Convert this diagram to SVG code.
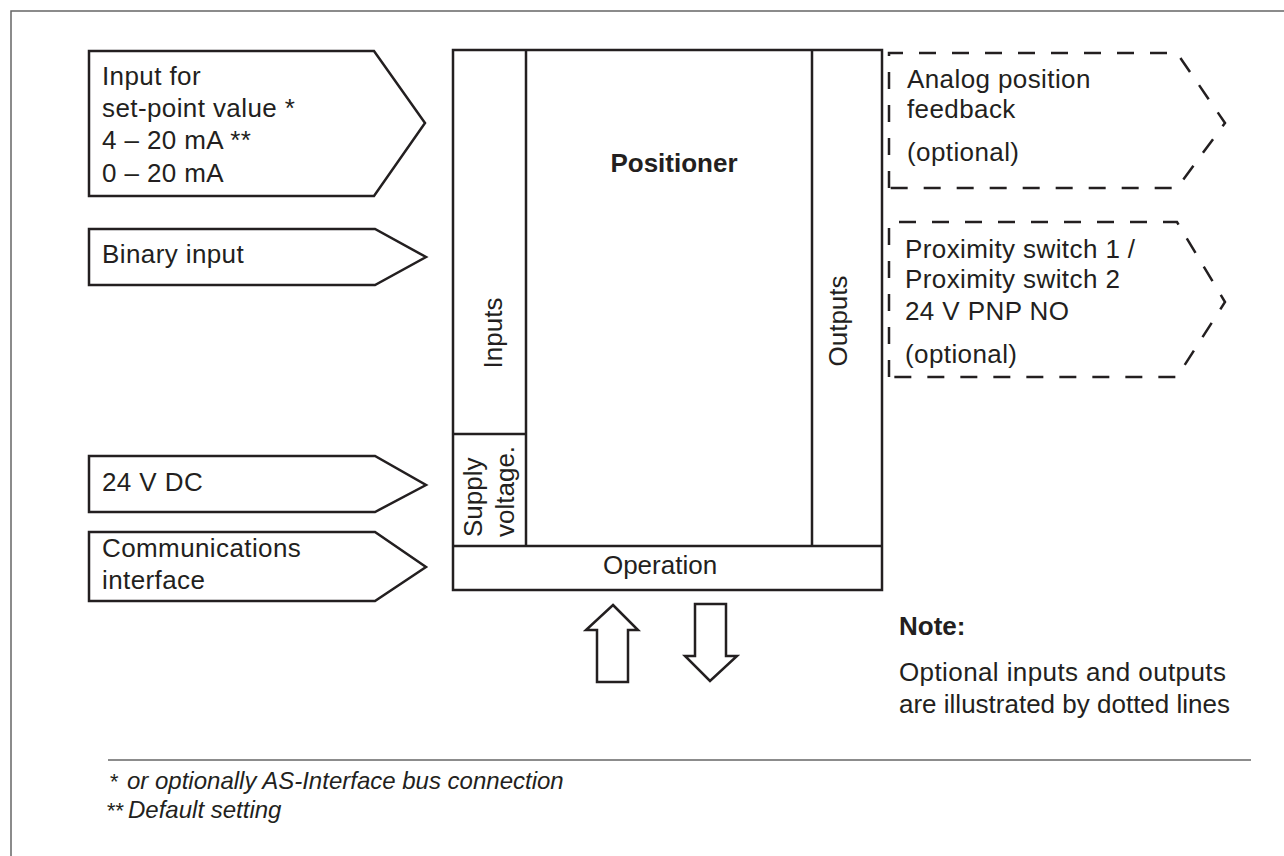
<svg xmlns="http://www.w3.org/2000/svg" width="1284" height="856" viewBox="0 0 1284 856">
<style>
text{font-family:"Liberation Sans",Arial,sans-serif;font-size:26px;fill:#231f20}
.w{letter-spacing:0.4px}
.b{font-weight:bold}
.fn{font-size:24px;font-style:italic}
.st{font-size:22px;font-style:italic}
.shape{fill:#fff;stroke:#231f20;stroke-width:2.5;stroke-linejoin:miter}
.dash{fill:none;stroke:#231f20;stroke-width:2.5;stroke-dasharray:17 16}
.ln{fill:none;stroke:#231f20;stroke-width:2.5}
.frame{fill:none;stroke:#666;stroke-width:1.5}
</style>
<rect width="1284" height="856" fill="#fff"/>
<path class="frame" d="M11,856 L11,11 L1284,11"/>
<g id="in-setpoint">
<polygon class="shape" points="89,51 374,51 425,123 374,196 89,196"/>
<text class="w" x="102" y="85">Input for</text>
<text class="w" x="102" y="117">set-point value *</text>
<text class="w" x="102" y="149">4 – 20 mA **</text>
<text class="w" x="102" y="182">0 – 20 mA</text>
</g>
<g id="in-binary">
<polygon class="shape" points="89,229 375,229 426,257 375,285 89,285"/>
<text class="w" x="102" y="263">Binary input</text>
</g>
<g id="in-24vdc">
<polygon class="shape" points="89,456 375,456 426,485 375,512 89,512"/>
<text class="w" x="102" y="491">24 V DC</text>
</g>
<g id="in-comm">
<polygon class="shape" points="89,532 375,532 426,567 375,601 89,601"/>
<text class="w" x="102" y="557">Communications</text>
<text class="w" x="102" y="589">interface</text>
</g>
<g id="positioner">
<rect class="shape" x="453" y="50" width="429" height="540"/>
<path class="ln" d="M526,50 V546 M812,50 V546 M453,546 H882 M453,434 H526"/>
<text class="b" x="674" y="172" text-anchor="middle">Positioner</text>
<text transform="translate(502,333) rotate(-90)" text-anchor="middle">Inputs</text>
<text transform="translate(847,321) rotate(-90)" text-anchor="middle">Outputs</text>
<text transform="translate(482,537) rotate(-90)">Supply</text>
<text transform="translate(514,537) rotate(-90)">voltage.</text>
<text x="660" y="574" text-anchor="middle">Operation</text>
</g>
<g id="out-analog">
<path class="dash" d="M889,188 L889,53 L1177,53 L1225,123 L1177,188 Z"/>
<text class="w" x="907" y="88">Analog position</text>
<text class="w" x="907" y="118">feedback</text>
<text class="w" x="907" y="161">(optional)</text>
</g>
<g id="out-proximity">
<path class="dash" d="M889,377 L889,222 L1177,222 L1225,302 L1177,377 Z"/>
<text class="w" x="905" y="258">Proximity switch 1 /</text>
<text class="w" x="905" y="288">Proximity switch 2</text>
<text class="w" x="905" y="320">24 V PNP NO</text>
<text class="w" x="905" y="363">(optional)</text>
</g>
<g id="connectors">
<polygon class="shape" points="613,605 638,630 628,630 628,682 597,682 597,630 586,630"/>
<polygon class="shape" points="695,604 726,604 726,656 737,656 710,681 685,656 695,656"/>
</g>
<g id="note">
<text class="b" x="899" y="635">Note:</text>
<text class="w" x="899" y="681">Optional inputs and outputs</text>
<text x="899" y="713">are illustrated by dotted lines</text>
</g>
<g id="footnotes">
<path class="frame" d="M108,760 H1251"/>
<text class="st" x="109" y="789">*</text>
<text class="fn" x="127" y="789">or optionally AS-Interface bus connection</text>
<text class="st" x="106" y="818">**</text>
<text class="fn" x="128" y="818">Default setting</text>
</g>
</svg>
